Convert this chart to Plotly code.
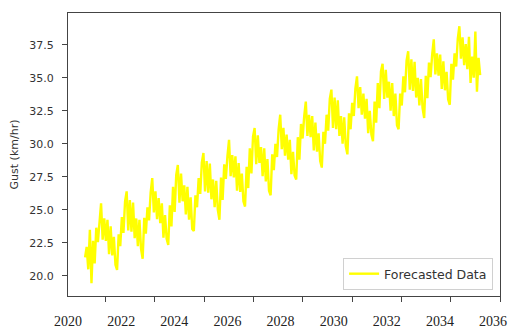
import pandas as pd
import plotly.graph_objects as go

# Forecasted gust values (km/hr)
gust = [
    21.4, 22.2, 20.5, 23.5,
    19.45, 22.65, 20.95, 23.65, 22.55, 24.25, 25.5, 22.75, 24.35, 22.65, 24.25, 21.65, 23.75, 21.55, 22.95, 20.85,
    20.45, 23.15, 22.25, 24.45, 23.25, 25.65, 26.4, 23.45, 25.75, 23.35, 25.55, 22.85, 24.35, 22.25, 24.25, 22.05,
    21.3, 24.4, 23.2, 25.2, 24.2, 26.3, 27.4, 24.8, 26.4, 24.3, 25.9, 24.0, 25.5, 22.9, 24.6, 22.8,
    22.35, 25.35, 23.75, 26.75, 24.85, 27.65, 28.4, 25.55, 27.75, 25.65, 26.85, 24.65, 26.75, 24.25, 25.95, 23.55,
    23.4, 26.1, 25.2, 27.4, 26.2, 28.6, 29.3, 26.4, 28.7, 26.3, 28.5, 25.8, 27.3, 25.2, 27.2, 25.0,
    24.25, 27.45, 25.75, 28.45, 27.35, 29.05, 30.3, 27.55, 29.15, 27.45, 29.05, 26.45, 28.55, 26.35, 27.75, 25.65,
    25.25, 28.25, 26.65, 29.65, 27.75, 30.55, 31.2, 28.45, 30.65, 28.55, 29.75, 27.55, 29.65, 27.15, 28.85, 26.45,
    26.1, 29.2, 28.0, 30.0, 29.0, 31.1, 32.2, 29.6, 31.2, 29.1, 30.7, 28.8, 30.3, 27.7, 29.4, 27.6,
    27.3, 30.5, 28.8, 31.5, 30.4, 32.1, 33.2, 30.6, 32.2, 30.5, 32.1, 29.5, 31.6, 29.4, 30.8, 28.7,
    28.2, 30.9, 30.0, 32.2, 31.0, 33.4, 34.1, 31.2, 33.5, 31.1, 33.3, 30.6, 32.1, 30.0, 32.0, 29.8,
    29.2, 32.3, 31.1, 33.1, 32.1, 34.2, 35.1, 32.7, 34.3, 32.2, 33.8, 31.9, 33.4, 30.8, 32.5, 30.7,
    30.2, 33.2, 31.6, 34.6, 32.7, 35.5, 36.06, 33.4, 35.6, 33.5, 34.7, 32.5, 34.6, 32.1, 33.8, 31.4,
    31.1, 33.8, 32.9, 35.1, 33.9, 36.3, 37.0, 34.1, 36.4, 34.0, 36.2, 33.5, 35.0, 32.9, 34.9, 32.7,
    31.95, 35.15, 33.45, 36.15, 35.05, 36.75, 37.9, 35.25, 36.85, 35.15, 36.75, 34.15, 36.25, 34.05, 35.45, 33.35,
    32.95, 36.05, 34.85, 36.85, 35.85, 37.95, 38.9, 36.45, 38.05, 35.95, 37.55, 35.65, 38.1, 34.6, 36.6, 35.0,
    38.5, 33.95, 36.5, 35.2,
]
dates = pd.date_range("2021-03-01", periods=len(gust), freq="569h")

tick_dates = ["2022-01-01", "2024-01-01", "2026-01-01", "2028-01-01", "2030-01-01",
              "2032-01-01", "2034-01-01", "2036-01-01", "2038-01-01"]
year_labels = [2020, 2022, 2024, 2026, 2028, 2030, 2032, 2034, 2036]
y_ticks = [20.0, 22.5, 25.0, 27.5, 30.0, 32.5, 35.0, 37.5]

fig = go.Figure()
fig.add_trace(go.Scatter(x=dates, y=gust, mode="lines", name="Forecasted Data",
                         line=dict(color="#FFFF00", width=2.4)))
# carrier for the year-label axis (no visible marks)
fig.add_trace(go.Scatter(x=year_labels, y=[None] * len(year_labels), xaxis="x2",
                         mode="lines", showlegend=False, hoverinfo="skip"))

axis_color = "#444444"
fig.update_layout(
    width=512, height=329,
    margin=dict(l=68, r=12, t=13, b=33, autoexpand=False),
    paper_bgcolor="white", plot_bgcolor="white",
    font=dict(family="DejaVu Sans", size=11, color="#333333"),
    showlegend=True,
    legend=dict(x=0.984, y=0.021, xanchor="right", yanchor="bottom",
                bgcolor="white", bordercolor="#d0d0d0", borderwidth=1,
                font=dict(family="DejaVu Sans", size=12.5, color="#333333")),
    xaxis=dict(type="date", range=["2020-06-21", "2038-01-01"],
               tickvals=tick_dates, showticklabels=False,
               ticks="outside", ticklen=5, tickcolor=axis_color,
               showline=True, linecolor=axis_color, linewidth=1, mirror=True,
               showgrid=False, zeroline=False, automargin=False),
    xaxis2=dict(overlaying="x", side="bottom", anchor="y",
                range=[2020, 2036.26], tickvals=year_labels,
                ticktext=[str(v) for v in year_labels],
                ticks="outside", ticklen=12, tickcolor="rgba(0,0,0,0)",
                tickfont=dict(family="Liberation Serif", size=14, color="#222222"),
                showline=False, showgrid=False, zeroline=False, automargin=False),
    yaxis=dict(range=[18.48, 39.9], tickvals=y_ticks, tickformat=".1f",
               ticks="outside", ticklen=5, tickcolor=axis_color,
               ticklabelstandoff=6,
               showline=True, linecolor=axis_color, linewidth=1, mirror=True,
               showgrid=False, zeroline=False, automargin=False,
               title=dict(text="Gust (km/hr)", standoff=8,
                          font=dict(family="DejaVu Sans", size=11, color="#333333"))),
)

fig.write_html("out.html", config={"displayModeBar": False},
               post_script="document.body.style.margin='0px';")
